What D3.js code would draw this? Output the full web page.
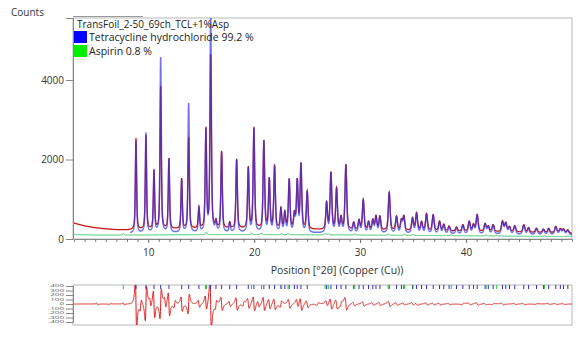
<!DOCTYPE html>
<html><head><meta charset="utf-8">
<script src="https://cdn.jsdelivr.net/npm/d3@7/dist/d3.min.js"></script>
<style>
body{margin:0;background:#fff;}
svg{display:block;font-family:"Open Sans","Noto Sans",sans-serif;}
</style></head><body>
<svg id="c" width="580" height="338"></svg>
<script>
// ---- data ----
const titleText = "TransFoil_2-50_69ch_TCL+1%Asp";
const legendLabels = ["Tetracycline hydrochloride 99.2 %", "Aspirin 0.8 %"];
const yTicks = [0, 2000, 4000];
const xTicks = [10, 20, 30, 40];
const resTicks = [400, 300, 200, 100, 0, -100, -200, -300, -400];

// observed background (counts) at angles
const bgAngles = [3, 4, 5, 6, 7, 8, 9, 12, 16, 20, 25, 30, 35, 40, 45, 50];
const bgObs    = [400, 330, 285, 255, 235, 225, 225, 240, 250, 250, 235, 215, 200, 185, 165, 140];
const bgCalc   = [150, 145, 140, 140, 140, 140, 140, 145, 150, 150, 145, 140, 130, 120, 110, 100];

// tetracycline hydrochloride reflections: position (°2θ), observed top, calculated top (counts)
const peakPos  = [8.85, 9.79, 10.55, 11.18, 11.96, 13.16, 13.82, 14.79, 15.45, 15.9, 16.4, 16.93, 17.7, 18.35, 19.45, 19.98, 20.92, 21.43, 21.93, 22.53, 22.9, 23.31, 23.8, 24.07, 24.42, 25.01, 26.84, 27.25, 27.78, 28.2, 28.66, 29.4, 29.9, 30.3, 30.8, 31.2, 31.5, 31.87, 32.75, 33.44, 33.9, 34.13, 34.95, 35.33, 35.8, 36.27, 36.9, 37.5, 37.9, 38.4, 39.1, 39.7, 40.3, 40.7, 41.05, 41.8, 42.1, 42.56, 43.44, 43.75, 44.1, 44.6, 45.45, 45.9, 46.65, 47.3, 47.8, 48.47, 48.9, 49.2, 49.6];
const obsTop   = [2533, 2600, 1693, 3830, 2013, 1509, 2550, 780, 2742, 4600, 420, 2197, 400, 2000, 1786, 2785, 2449, 1484, 1836, 747, 646, 1484, 600, 1442, 1862, 1190, 898, 1652, 1250, 520, 1862, 400, 460, 981, 420, 470, 561, 561, 1165, 561, 460, 561, 520, 646, 420, 629, 604, 436, 360, 320, 294, 352, 436, 350, 604, 377, 310, 352, 436, 394, 300, 327, 352, 280, 268, 244, 260, 310, 250, 244, 226];
const calcTop  = [2450, 2660, 1720, 4550, 2000, 1480, 3400, 760, 2700, 5600, 400, 2150, 390, 1980, 1760, 2750, 2450, 1480, 1800, 730, 640, 1470, 580, 1430, 1850, 1170, 880, 1640, 1240, 500, 1840, 390, 440, 960, 400, 450, 540, 540, 1140, 540, 440, 540, 500, 620, 400, 600, 580, 420, 340, 300, 280, 340, 420, 330, 580, 360, 290, 340, 420, 380, 280, 310, 330, 260, 250, 230, 240, 290, 230, 225, 210];

// aspirin reflections: position (°2θ), contribution (counts)
const aspPos  = [7.65, 15.5, 19.76, 20.7, 22.6, 23.2, 26.7, 27.0, 29.5, 32.65, 34.2, 35.0, 38.6, 41.9, 42.9, 47.4, 49.6];
const aspH    = [40, 60, 35, 45, 30, 30, 35, 30, 25, 30, 25, 25, 20, 20, 20, 15, 15];

// difference curve features: position (°2θ), amplitude (counts)
const resPos = [5.2, 6.4, 7.7, 8.85, 9.3, 9.79, 10.2, 10.55, 11.18, 11.6, 11.96, 12.5, 13.16, 13.82, 14.79, 15.45, 15.9, 16.4, 16.93, 17.7, 18.35, 19.0, 19.45, 19.98, 20.4, 20.92, 21.43, 21.93, 22.53, 23.31, 24.07, 24.42, 25.01, 26.0, 26.84, 27.25, 27.78, 28.2, 28.66, 29.4, 30.3, 31.2, 31.87, 32.75, 33.44, 34.13, 34.95, 35.33, 36.27, 36.9, 37.5, 38.4, 39.7, 40.3, 41.05, 41.8, 42.56, 43.44, 44.6, 45.45, 46.65, 47.8, 48.47, 49.2];
const resAmp = [20, -15, 25, 520, -120, -380, 90, 300, -330, 110, 260, -80, 160, -220, 80, 160, 560, -90, 150, 60, 140, -50, 110, 160, 70, 150, 110, 120, -70, 100, 90, 140, 80, -30, 60, 120, 100, -50, 140, 40, 50, 30, 35, 60, 30, 25, 30, 25, 25, 20, 20, 15, -20, 20, 30, 15, -15, 20, 12, 15, -12, 12, 12, 10];

// ---- scales ----
const svg = d3.select("#c");
const X0 = 74, X1 = 572, Ytop = 18, Ybot = 239;
const x = d3.scaleLinear().domain([3, 50]).range([X0, X1]);
const y = d3.scaleLinear().domain([0, 5560]).range([Ybot, Ytop]);
const bgO = d3.scaleLinear().domain(bgAngles).range(bgObs);
const bgC = d3.scaleLinear().domain(bgAngles).range(bgCalc);

const fwhm = t => 0.11 + 0.0028 * t;
function pv(dx, w) { // pseudo-Voigt, unit height
  const t = dx / (w / 2);
  const L = 1 / (1 + t * t);
  const G = Math.exp(-Math.LN2 * t * t);
  return 0.55 * L + 0.45 * G;
}
const grid = d3.range(3, 50.0001, 0.01);
function profile(tops, bgfn, pos, from) {
  return grid.filter(t => t >= from).map(t => {
    let s = bgfn(t);
    pos.forEach((p, i) => {
      const dx = t - p;
      if (Math.abs(dx) < 3) s += (tops[i] - bgfn(p)) * pv(dx, fwhm(p));
    });
    return [t, s];
  });
}
const obsCurve = profile(obsTop, bgO, peakPos, 3);
const calcCurve = profile(calcTop, bgC, peakPos, 8.3);
const aspCurve = grid.map(t => {
  let s = bgC(t) - 40;
  aspPos.forEach((p, i) => { s += aspH[i] * pv(t - p, fwhm(p)); });
  return [t, s];
});

// ---- main frame ----
const defs = svg.append("defs");
defs.append("clipPath").attr("id", "clipMain")
  .append("rect").attr("x", X0 - 1).attr("y", Ytop).attr("width", X1 - X0 + 1).attr("height", Ybot - Ytop);
svg.append("rect").attr("x", 73).attr("y", Ytop).attr("width", X1 - 73).attr("height", Ybot - Ytop)
  .attr("fill", "none").attr("stroke", "#b8b8b8").attr("stroke-width", 1);

const line = d3.line().x(d => x(d[0])).y(d => y(d[1]));
const g = svg.append("g").attr("clip-path", "url(#clipMain)");
g.append("path").datum(aspCurve).attr("d", line).attr("fill", "none").attr("stroke", "#30c060").attr("stroke-width", 1);
g.append("path").datum(obsCurve).attr("d", line).attr("fill", "none").attr("stroke", "#c81818").attr("stroke-width", 1.3);
g.append("path").datum(calcCurve).attr("d", line).attr("fill", "none").attr("stroke", "#3434e6").attr("stroke-width", 1.5).attr("stroke-opacity", 0.7);

// axes
const ax = svg.append("g").attr("transform", `translate(73,0)`)
  .call(d3.axisLeft(y).tickValues(yTicks).tickSize(7).tickPadding(2).tickFormat(d3.format("d")));
ax.select(".domain").attr("stroke", "#888");
ax.selectAll(".tick line").attr("stroke", "#888");
ax.selectAll("text").attr("font-size", 10).attr("fill", "#333").attr("font-family", "Open Sans, sans-serif");

const bx = svg.append("g").attr("transform", `translate(0,${Ybot})`)
  .call(d3.axisBottom(x).tickValues(d3.range(4, 50)).tickSize(3).tickFormat(""));
bx.select(".domain").attr("stroke", "#888");
bx.selectAll(".tick line").attr("stroke", "#777");
const bx2 = svg.append("g").attr("transform", `translate(0,${Ybot})`)
  .call(d3.axisBottom(x).tickValues(xTicks).tickSize(4).tickPadding(6));
bx2.select(".domain").remove();
bx2.selectAll(".tick line").attr("stroke", "#777");
bx2.selectAll("text").attr("font-size", 10).attr("fill", "#333").attr("font-family", "Open Sans, sans-serif");

svg.append("text").attr("x", 337).attr("y", 274).attr("text-anchor", "middle")
  .attr("font-size", 10.5).attr("fill", "#333").text("Position [°2θ] (Copper (Cu))");
svg.append("text").attr("x", 11).attr("y", 16).attr("font-size", 10).attr("fill", "#333").text("Counts");

// legend
svg.append("line").attr("x1", 73).attr("x2", 143).attr("y1", 16.5).attr("y2", 16.5).attr("stroke", "#999");
svg.append("text").attr("x", 77).attr("y", 28).attr("font-size", 10).attr("fill", "#222").text(titleText);
const legColors = ["#0000ff", "#00ee00"];
legendLabels.forEach((lab, i) => {
  svg.append("rect").attr("x", 74).attr("y", 31 + i * 14).attr("width", 13).attr("height", 12).attr("fill", legColors[i]);
  svg.append("text").attr("x", 89).attr("y", 41 + i * 14).attr("font-size", 10.5).attr("fill", "#222").text(lab);
});

// ---- residual panel ----
const R0 = 285, R1 = 325;
const yr = d3.scaleLinear().domain([-400, 400]).range([322, 286]);
svg.append("rect").attr("x", 73).attr("y", R0).attr("width", X1 - 73).attr("height", R1 - R0)
  .attr("fill", "none").attr("stroke", "#b8b8b8");
const ra = svg.append("g").attr("transform", "translate(73,0)")
  .call(d3.axisLeft(yr).tickValues(resTicks).tickSize(7).tickFormat(""));
ra.select(".domain").attr("stroke", "#888");
ra.selectAll(".tick line").attr("stroke", "#888");
// compressed labels, as in the reference
svg.append("g").selectAll("text").data(resTicks).join("text")
  .attr("transform", d => `translate(64,${yr(d)}) scale(1,0.45)`)
  .attr("text-anchor", "end").attr("dy", "0.35em")
  .attr("font-size", 8).attr("fill", "#555").text(d => d);

defs.append("clipPath").attr("id", "clipRes")
  .append("rect").attr("x", 74).attr("y", R0).attr("width", X1 - 74).attr("height", R1 - R0);
function dl(t) { // derivative-shaped unit feature
  return -2 * t / Math.pow(1 + t * t, 2) / 0.6495;
}
const resCurve = grid.map(t => {
  let s = 0;
  resPos.forEach((p, i) => {
    const w = fwhm(p) * 0.8;
    const dx = t - p;
    if (Math.abs(dx) < 2) s += resAmp[i] * dl(dx / w);
  });
  return [t, s];
});
svg.append("g").attr("clip-path", "url(#clipRes)").append("path").datum(resCurve)
  .attr("d", d3.line().x(d => x(d[0])).y(d => yr(d[1])))
  .attr("fill", "none").attr("stroke", "#dd1c1c").attr("stroke-width", 1);

// phase reflection markers
svg.append("g").selectAll("line").data(peakPos).join("line")
  .attr("x1", d => x(d)).attr("x2", d => x(d)).attr("y1", R0).attr("y2", R0 + 4)
  .attr("stroke", "#3030d0").attr("stroke-width", 1);
svg.append("g").selectAll("line").data(aspPos).join("line")
  .attr("x1", d => x(d)).attr("x2", d => x(d)).attr("y1", R0).attr("y2", R0 + 4)
  .attr("stroke", "#30c030").attr("stroke-width", 1);
</script></body></html>
